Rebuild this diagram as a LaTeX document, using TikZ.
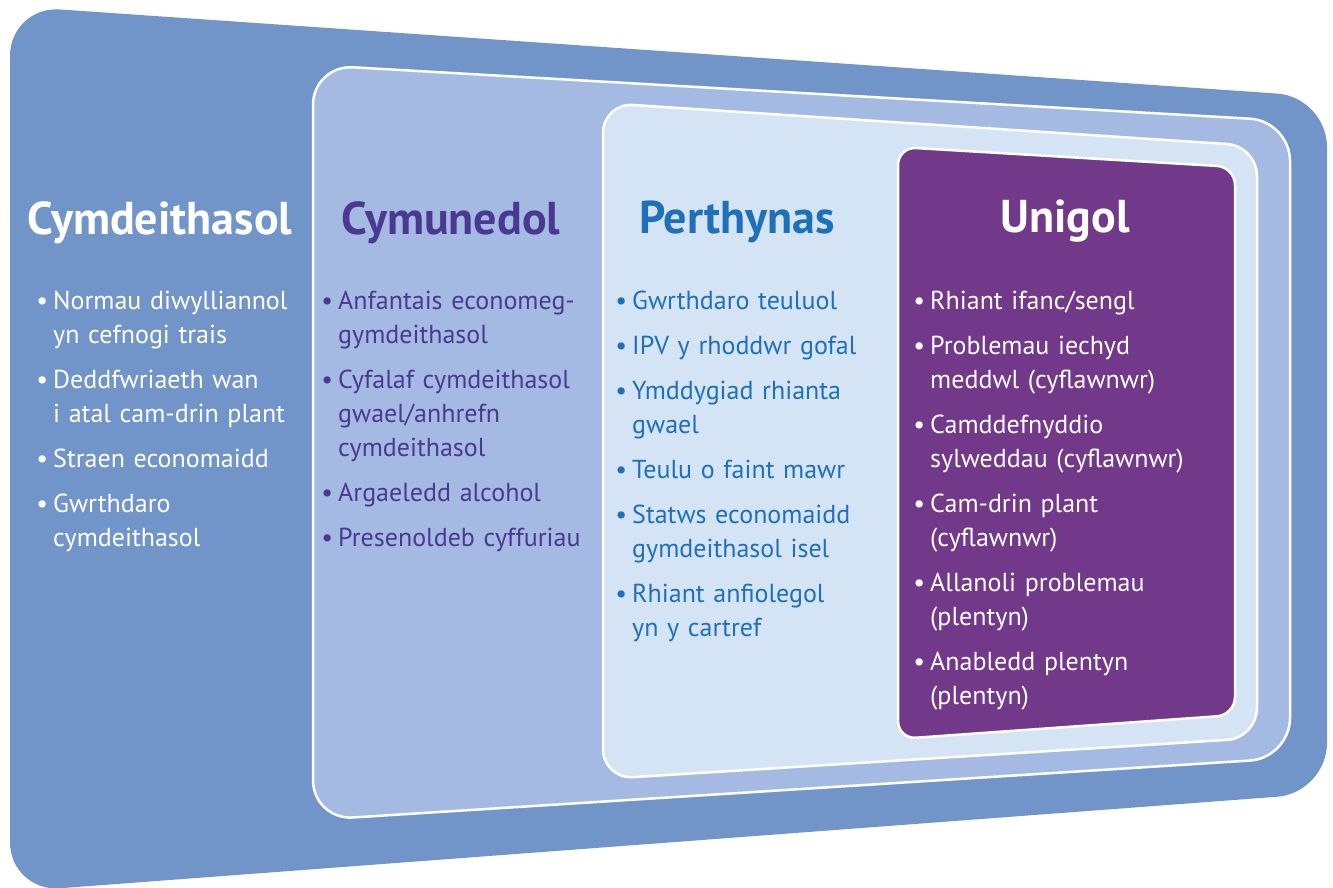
\documentclass[tikz,border=0pt]{standalone}
\usepackage{fontspec}
\setmainfont{PT Sans}

\definecolor{haenA}{HTML}{7195C9}
\definecolor{haenB}{HTML}{A4BAE2}
\definecolor{haenC}{HTML}{D5E4F5}
\definecolor{haenD}{HTML}{72388A}
\definecolor{porffor}{HTML}{4B3991}
\definecolor{glas}{HTML}{1E70B8}

\newcommand\pwynt{\hangindent=13pt\hangafter=1\makebox[13pt][l]{\makebox[4pt][c]{\textbullet}}}

\begin{document}
\begin{tikzpicture}[x = 1pt, y = -1pt,
  layer/.style = {draw = white, line width = 2.5pt},
  title/.style = {anchor = base, inner sep = 0pt, font = \fontsize{46}{52}\selectfont\bfseries},
  list/.style = {anchor = base west, inner sep = 0pt, text width = 300pt, align = left,
    font = \fontsize{26}{34}\selectfont, execute at begin node = \setlength{\parskip}{11pt}}]
\useasboundingbox (0,0) rectangle (1333,887);

\fill[haenA, rounded corners = 50] (10,6) -- (1327,97) -- (1327,793) -- (10,892) -- cycle;
\filldraw[layer, fill = haenB, rounded corners = 40] (313,65) -- (1290,121) -- (1290,758) -- (313,820) -- cycle;
\filldraw[layer, fill = haenC, rounded corners = 30] (603,103) -- (1257,146) -- (1257,738) -- (603,779) -- cycle;
\filldraw[layer, fill = haenD, rounded corners = 18] (898,147) -- (1235,167) -- (1235,715) -- (898,739) -- cycle;

\node[title, white] (cymdeithasol) at (160,234) {Cymdeithasol};
\node[title, porffor] (cymunedol) at (451,234) {Cymunedol};
\node[title, glas] (perthynas) at (737,233) {Perthynas};
\node[title, white] (unigol) at (1065,232) {Unigol};

\node[list, white] (cymdeithasol-list) at (40,309) {%
\pwynt Normau diwylliannol\newline yn cefnogi trais\par
\pwynt Deddfwriaeth wan\newline i atal cam-drin plant\par
\pwynt Straen economaidd\par
\pwynt Gwrthdaro\newline cymdeithasol\par};

\node[list, porffor] (cymunedol-list) at (325,309) {%
\pwynt Anfantais economeg-\newline gymdeithasol\par
\pwynt Cyfalaf cymdeithasol\newline gwael/anhrefn\newline cymdeithasol\par
\pwynt Argaeledd alcohol\par
\pwynt Presenoldeb cyffuriau\par};

\node[list, glas] (perthynas-list) at (619,309) {%
\pwynt Gwrthdaro teuluol\par
\pwynt IPV y rhoddwr gofal\par
\pwynt Ymddygiad rhianta\newline gwael\par
\pwynt Teulu o faint mawr\par
\pwynt Statws economaidd\newline gymdeithasol isel\par
\pwynt Rhiant anfiolegol\newline yn y cartref\par};

\node[list, white] (unigol-list) at (917,309) {%
\pwynt Rhiant ifanc/sengl\par
\pwynt Problemau iechyd\newline meddwl (cyflawnwr)\par
\pwynt Camddefnyddio\newline sylweddau (cyflawnwr)\par
\pwynt Cam-drin plant\newline (cyflawnwr)\par
\pwynt Allanoli problemau\newline (plentyn)\par
\pwynt Anabledd plentyn\newline (plentyn)\par};
\end{tikzpicture}
\end{document}
